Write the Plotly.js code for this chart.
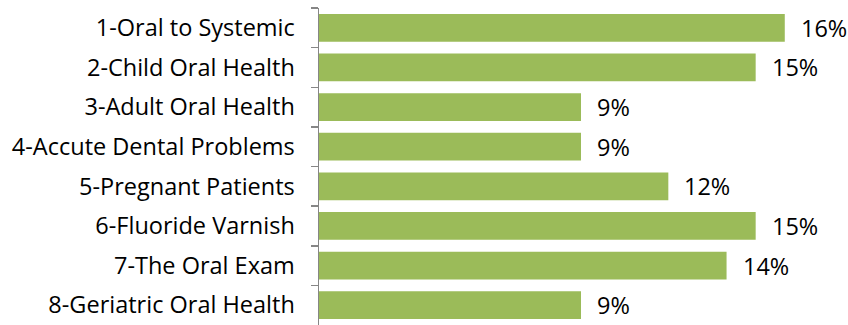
<!DOCTYPE html>
<html><head><meta charset="utf-8">
<script src="https://cdn.plot.ly/plotly-3.0.1.min.js"></script>
<style>html,body{margin:0;padding:0;background:#fff;}</style>
</head><body>
<div id="chart" style="width:848px;height:325px;"></div>
<script>
const categories = ["1-Oral to Systemic","2-Child Oral Health","3-Adult Oral Health","4-Accute Dental Problems","5-Pregnant Patients","6-Fluoride Varnish","7-The Oral Exam","8-Geriatric Oral Health"];
const values = [16, 15, 9, 9, 12, 15, 14, 9];
const labels = ["16%","15%","9%","9%","12%","15%","14%","9%"];

const font = {family: "Open Sans, sans-serif", size: 23.5, color: "#000"};
const annotations = categories.map((c, i) => ({
  x: values[i], y: c, xref: "x", yref: "y", text: labels[i], showarrow: false,
  xanchor: "left", xshift: 14, font: font
}));

Plotly.newPlot("chart", [{
  type: "bar", orientation: "h", x: values, y: categories,
  marker: {color: "#9BBB59"}, width: 0.7, hoverinfo: "none"
}], {
  width: 848, height: 325,
  margin: {l: 319, r: 5, t: 8, b: 0},
  paper_bgcolor: "#fff", plot_bgcolor: "#fff",
  showlegend: false,
  xaxis: {range: [0, 18], visible: false, fixedrange: true},
  yaxis: {type: "category", autorange: "reversed", showline: true, linecolor: "#868686", linewidth: 1.5,
          ticks: "outside", ticklen: 7, tickcolor: "#868686", tickwidth: 1.5, tickson: "boundaries",
          ticklabelstandoff: 18, tickfont: font, showgrid: false, zeroline: false},
  annotations: annotations
}, {staticPlot: true});
</script>
</body></html>
